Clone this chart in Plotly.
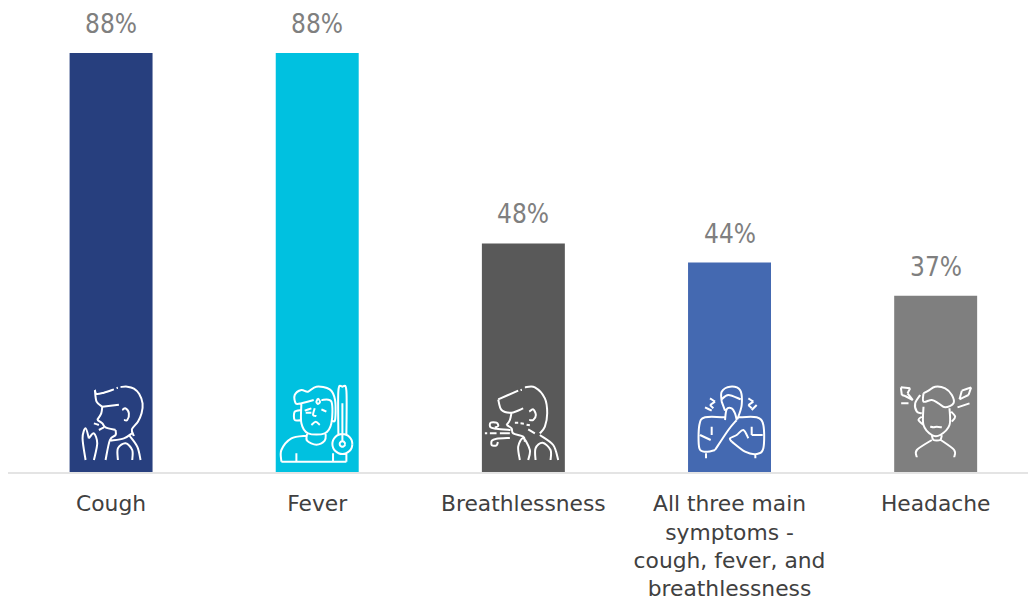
import math
import plotly.graph_objects as go

categories = ["Cough", "Fever", "Breathlessness",
              "All three main<br>symptoms -<br>cough, fever, and<br>breathlessness", "Headache"]
values = [88, 88, 48, 44, 37]
value_labels = ["88%", "88%", "48%", "44%", "37%"]
bar_colors = ["#273F7E", "#00C1E0", "#595959", "#4469B1", "#7F7F7F"]

VALUE_FONT = "DejaVu Sans Condensed, DejaVu Sans"
TICK_FONT = "DejaVu Sans"
PX_PER_UNIT = 4.761
BASE_Y = 472
LEFT = 7.5
STEP = 206.25


def smooth(points):
    """Catmull-Rom polyline to a Bezier SVG path, in pixels relative to the anchor."""
    pts = points
    n = len(pts)
    d = f"M{pts[0][0]:.2f},{pts[0][1]:.2f}"
    for i in range(n - 1):
        p0 = pts[max(i - 1, 0)]
        p1 = pts[i]
        p2 = pts[i + 1]
        p3 = pts[min(i + 2, n - 1)]
        c1 = (p1[0] + (p2[0] - p0[0]) / 6, p1[1] + (p2[1] - p0[1]) / 6)
        c2 = (p2[0] - (p3[0] - p1[0]) / 6, p2[1] - (p3[1] - p1[1]) / 6)
        d += f"C{c1[0]:.2f},{c1[1]:.2f} {c2[0]:.2f},{c2[1]:.2f} {p2[0]:.2f},{p2[1]:.2f}"
    return d


def circle(cx, cy, r):
    return [(cx + r * math.cos(a * math.pi / 8), cy + r * math.sin(a * math.pi / 8)) for a in range(17)]


def poly(*pts):
    return [[pts[i], pts[i + 1]] for i in range(len(pts) - 1)]


# icon outlines, traced in 3x zoom coordinates: (centre x, baseline y, strokes)
ICONS = {
    0: (151.5, 306, [
        [(103, 60), (108, 72), (130, 68), (160, 58)],
        [(168, 54), (172, 53)],
        [(180, 51), (200, 50), (220, 56), (236, 72), (246, 100), (243, 130), (232, 155), (214, 178), (220, 198)],
        [(103, 60), (108, 95), (125, 110)],
        [(125, 110), (175, 104)],
        [(125, 110), (122, 130), (110, 150)],
        [(110, 150), (125, 160), (135, 172), (165, 180)],
        [(165, 180), (165, 195), (148, 210), (135, 270)],
        [(150, 212), (190, 205), (214, 190)],
        [(205, 195), (230, 230), (240, 270)],
        [(172, 270), (172, 235), (195, 220), (215, 240), (215, 270)],
        [(185, 120), (195, 115), (205, 130), (200, 150), (190, 150)],
        [(75, 270), (66, 205), (75, 175), (85, 205)],
        [(85, 205), (100, 190), (110, 220), (100, 270)],
        [(100, 160), (115, 165)],
        [(115, 180), (130, 172)],
    ]),
    1: (772.5, 306, [
        [(836, 195), (836, 62), (848, 50), (860, 62), (860, 195)],
        circle(848, 222, 30),
        circle(848, 222, 8),
        [(848, 100), (848, 212)],
        [(725, 100), (708, 100), (705, 75), (725, 60), (745, 65), (770, 50), (810, 58), (826, 90), (826, 150), (815, 150)],
        [(725, 100), (725, 160), (745, 190), (795, 190), (815, 160), (815, 95), (785, 90)],
        [(725, 100), (762, 90)],
        [(725, 120), (705, 125), (705, 150), (725, 150)],
        [(775, 85), (770, 95), (775, 102), (781, 95), (775, 85)],
        [(735, 122), (755, 115)],
        [(738, 128), (755, 128)],
        [(765, 115), (760, 135), (770, 138)],
        [(785, 118), (800, 125)],
        [(755, 165), (768, 155), (780, 165)],
        [(742, 192), (742, 212), (770, 224), (795, 212), (798, 192)],
        [(740, 197), (695, 205), (665, 240), (665, 275)],
        [(665, 275), (860, 275)],
        [(860, 275), (860, 250)],
        [(710, 250), (710, 275)],
        [(820, 250), (820, 275)],
    ]),
    2: (160.5, 306, [
        [(85, 88), (95, 120), (125, 128), (160, 115)],
        [(85, 88), (145, 62)],
        [(152, 60), (156, 59)],
        [(165, 52), (195, 52), (225, 85), (232, 130), (225, 170), (210, 190)],
        [(125, 128), (120, 150), (110, 165)],
        [(110, 165), (125, 175), (130, 190), (160, 200), (165, 215)],
        [(178, 125), (190, 118), (198, 135), (190, 150), (178, 150)],
        [(135, 158), (145, 158)], [(152, 160), (162, 161)], [(170, 164), (180, 166)],
        [(175, 178), (195, 190)],
        [(210, 195), (250, 225), (265, 270)],
        [(197, 270), (197, 235), (218, 218), (242, 240), (242, 270)],
        [(150, 270), (145, 230), (160, 205), (180, 240), (175, 270)],
        [(45, 190), (52, 190)], [(60, 190), (80, 190)], [(90, 190), (120, 190)],
        [(122, 180), (80, 176), (62, 172), (62, 158), (80, 158), (85, 168), (75, 172)],
        [(120, 204), (80, 206), (66, 212), (66, 226), (80, 226), (84, 216)],
    ]),
    3: (778.5, 306, [
        [(755, 95), (755, 65), (780, 50), (810, 60), (815, 105), (802, 148)],
        [(755, 88), (775, 75), (812, 88)],
        [(755, 95), (765, 122)],
        [(765, 150), (770, 118), (785, 115), (795, 130), (800, 150)],
        [(800, 150), (775, 180), (735, 240)],
        [(735, 240), (710, 245), (688, 235), (688, 165), (705, 142), (768, 142)],
        [(805, 142), (860, 142), (880, 165), (880, 235), (860, 252), (825, 245), (785, 215)],
        [(785, 215), (780, 205), (800, 195), (820, 180), (835, 205)],
        [(725, 170), (725, 195)],
        [(690, 195), (722, 210)],
        [(845, 170), (845, 195)], [(845, 195), (878, 195)],
        [(708, 250), (708, 265)],
        [(856, 252), (856, 265)],
        *poly((720, 85), (735, 95), (720, 105), (730, 115)),
        [(705, 112), (725, 122)],
        *poly((835, 85), (850, 95), (835, 105), (845, 115)),
        [(860, 105), (845, 120)],
    ]),
    4: (196.5, 306, [
        [(160, 110), (160, 165), (185, 195), (210, 195), (238, 165), (238, 115)],
        [(160, 70), (175, 62), (195, 50), (225, 55), (245, 75), (250, 100), (225, 112), (205, 100), (185, 90), (160, 95), (160, 70)],
        [(150, 75), (135, 100), (140, 125), (155, 130)],
        [(155, 140), (145, 150), (160, 165)],
        [(243, 125), (255, 140), (245, 155)],
        [(180, 170), (190, 172), (200, 170), (215, 172)],
        [(185, 195), (190, 210), (210, 210), (215, 195)],
        [(140, 262), (140, 240), (185, 210)],
        [(252, 262), (252, 240), (212, 210)],
        *poly((92, 52), (120, 55), (112, 70), (128, 90), (105, 78), (95, 75), (92, 52)),
        [(93, 100), (115, 100)],
        *poly((303, 52), (275, 62), (268, 88), (295, 75), (303, 52)),
        [(262, 112), (298, 100)],
    ]),
}

fig = go.Figure(go.Bar(
    x=categories, y=values,
    marker=dict(color=bar_colors, line=dict(width=0)),
    width=83 / STEP,
))

shapes = []
for idx, (cx, by, strokes) in ICONS.items():
    path = " ".join(
        smooth([((x - cx) / 3, (by - y) / 3) for x, y in s]) for s in strokes
    )
    shapes.append(dict(
        type="path", path=path, layer="above",
        xref="x", xsizemode="pixel", xanchor=categories[idx],
        yref="y", ysizemode="pixel", yanchor=0,
        line=dict(color="#FFFFFF", width=2),
        fillcolor="rgba(0,0,0,0)",
    ))

annotations = [
    dict(x=c, y=v, text=t, showarrow=False, xanchor="center", yanchor="bottom", yshift=12,
         font=dict(family=VALUE_FONT, size=26, color="#7F7F7F"))
    for c, v, t in zip(categories, values, value_labels)
]

fig.update_layout(
    width=1028, height=598,
    margin=dict(l=LEFT, r=0, t=0, b=598 - BASE_Y, pad=0, autoexpand=False),
    paper_bgcolor="#FFFFFF", plot_bgcolor="#FFFFFF",
    showlegend=False, shapes=shapes, annotations=annotations,
    xaxis=dict(type="category", range=[-0.5, (1028 - LEFT) / STEP - 0.5], automargin=False,
               showgrid=False, zeroline=False, showline=True, linecolor="#E4E4E4", linewidth=2,
               ticks="", ticklabelstandoff=11,
               tickfont=dict(family=TICK_FONT, size=21.8, color="#404040"), tickangle=0),
    yaxis=dict(range=[0, BASE_Y / PX_PER_UNIT], visible=False),
)
fig.write_html("out.html", post_script="document.body.style.margin='0';document.documentElement.style.overflow='hidden';",
               config=dict(displayModeBar=False))
